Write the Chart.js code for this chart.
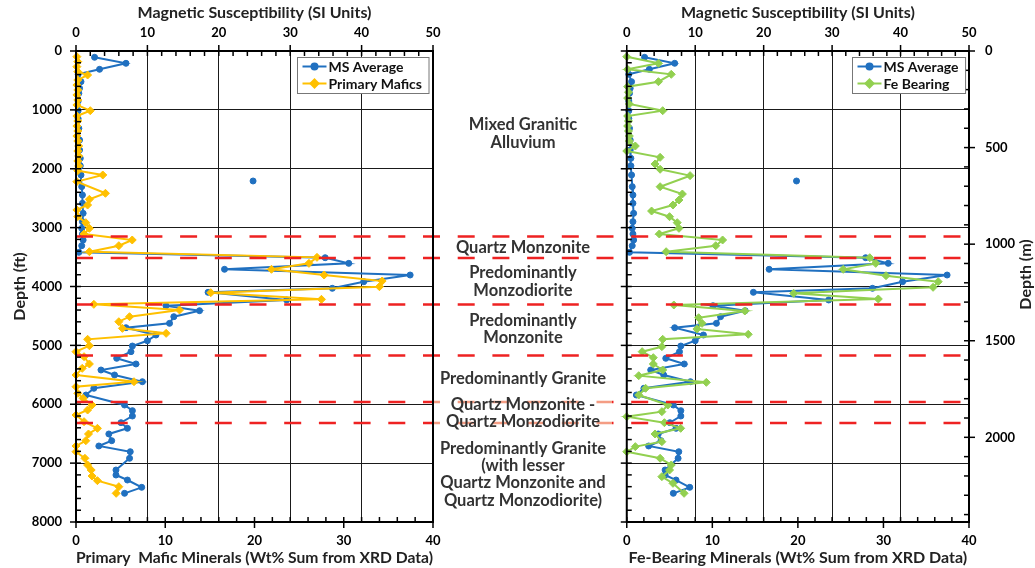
<!DOCTYPE html>
<html>
<head>
<meta charset="utf-8">
<script src="https://cdn.jsdelivr.net/npm/chart.js@4.4.1/dist/chart.umd.min.js"></script>
<style>
  html, body { margin: 0; padding: 0; background: #fff; }
  #wrap { position: relative; width: 1035px; height: 568px; overflow: hidden; }
  #leftChart { position: absolute; left: 0; top: 0; }
  #rightChart { position: absolute; left: 612px; top: 0; }
</style>
</head>
<body>
<div id="wrap">
  <canvas id="leftChart" width="612" height="568"></canvas>
  <canvas id="rightChart" width="423" height="568"></canvas>
</div>
<script>
/* Well log: magnetic susceptibility vs XRD mineral sums */

// MS Average (SI units), same series in both panels
const msDepth = [107, 209, 311, 396, 521, 634, 719, 850, 1014, 1150, 1314, 1512, 1682, 1823, 1950,
  2106, 2304, 2446, 2587, 2757, 2899, 3012, 3108, 3210, 3307, 3420, 3511, 3607, 3708, 3805,
  3918, 4031, 4099, 4229, 4326, 4411, 4513, 4626, 4700, 4824, 4921, 5011, 5107, 5220, 5316,
  5418, 5503, 5617, 5729, 5843, 6013, 6109, 6200, 6313, 6409, 6505, 6619, 6709, 6806, 6918,
  7117, 7202, 7287, 7411, 7513];
const msValue = [2.6, 7.0, 3.3, 0.3, 0.7, 0.5, 0.4, 0.3, 0.3, 0.3, 0.4, 0.5, 0.5, 0.6, 0.6,
  0.7, 0.8, 0.9, 0.9, 1.0, 0.9, 0.8, 0.9, 1.0, 0.8, 0.4, 34.9, 38.2, 20.8, 46.8,
  40.3, 35.9, 18.5, 29.5, 12.6, 17.3, 13.7, 13.1, 7.0, 11.2, 10.0, 7.9, 7.7, 5.7, 8.4,
  3.5, 5.4, 9.3, 2.5, 1.4, 6.8, 7.9, 7.9, 6.3, 7.2, 4.6, 5.0, 3.2, 7.6, 7.5,
  5.6, 5.6, 7.2, 9.2, 6.8];
const msOutlierDepth = [2208];
const msOutlierValue = [24.8];

// Primary mafic minerals (wt%)
const mafDepth = [96, 181, 266, 351, 408, 493, 578, 662, 747, 832, 917, 1014, 1104, 1189, 1274,
  1359, 1444, 1529, 1614, 1699, 1783, 1868, 1953, 2033, 2106, 2219, 2417, 2519, 2616, 2700,
  2813, 2916, 3012, 3108, 3210, 3307, 3409, 3505, 3607, 3708, 3805, 3907, 4003, 4105, 4218,
  4303, 4399, 4513, 4598, 4711, 4796, 4897, 5006, 5107, 5192, 5316, 5390, 5503, 5617, 5702,
  5814, 5900, 6013, 6098, 6183, 6296, 6409, 6505, 6619, 6709, 6806, 6918, 7032, 7117, 7219,
  7298, 7400, 7513];
const mafValue = [0.1, 0.2, 0.1, 0.2, 1.3, 0.2, 0.1, 0.2, 0.1, 0.2, 0.1, 1.6, 0.1, 0.2, 0.1,
  0.2, 0.1, 0.2, 0.3, 0.2, 0.3, 0.2, 0.3, 0.2, 3.0, 0.1, 3.3, 1.5, 1.3, 0.1,
  0.2, 1.1, 1.5, 0.9, 6.3, 4.8, 1.5, 27.0, 26.1, 21.9, 27.8, 34.3, 34.0, 15.1, 27.5,
  2.0, 11.6, 6.0, 4.8, 5.2, 10.1, 1.3, 1.5, 0.0, 0.9, 1.5, 0.7, 0.0, 6.5, 0.0,
  0.2, 0.8, 1.8, 1.3, 0.0, 0.9, 2.4, 1.4, 1.1, 0.0, 0.0, 1.0, 1.3, 1.7, 1.8,
  2.4, 4.8, 4.5];

// Fe-bearing minerals (wt%)
const feDepth = [96, 209, 311, 396, 521, 606, 700, 800, 900, 1014, 1104, 1189, 1274, 1359, 1444,
  1529, 1614, 1699, 1806, 1919, 2009, 2117, 2305, 2429, 2531, 2616, 2718, 2814, 2916, 3012,
  3108, 3210, 3307, 3409, 3511, 3607, 3708, 3816, 3918, 4014, 4116, 4212, 4314, 4416, 4530,
  4626, 4722, 4812, 4897, 5022, 5107, 5209, 5316, 5418, 5515, 5628, 5729, 5843, 6013, 6126,
  6211, 6313, 6409, 6505, 6636, 6720, 6806, 6918, 7032, 7117, 7230, 7343, 7513];
const feValue = [0.0, 3.7, 0.1, 5.2, 3.7, 0.1, 0.2, 0.1, 0.3, 4.2, 0.1, 0.2, 0.1, 0.2, 0.3,
  0.3, 1.0, 0.0, 3.9, 3.3, 3.9, 7.4, 3.9, 6.5, 6.1, 5.4, 2.9, 5.0, 5.9, 6.1,
  3.8, 11.2, 10.4, 4.6, 28.4, 29.1, 25.3, 30.3, 36.4, 35.8, 19.5, 29.4, 5.5, 13.8, 8.4,
  8.8, 8.2, 14.2, 4.2, 4.1, 1.8, 3.1, 3.1, 4.2, 1.4, 9.3, 2.2, 1.4, 4.8, 4.1,
  0.0, 4.4, 6.3, 3.3, 4.1, 1.0, 0.0, 3.9, 5.2, 5.0, 4.1, 5.4, 6.7];

// lithology zones
const zoneBoundary = [3150, 3516, 4306, 5172, 5962, 6319];
const zoneLabel = [
  ["Mixed Granitic", "Alluvium"],
  ["Quartz Monzonite"],
  ["Predominantly", "Monzodiorite"],
  ["Predominantly", "Monzonite"],
  ["Predominantly Granite"],
  ["Quartz Monzonite -", "Quartz Monzodiorite"],
  ["Predominantly Granite", "(with lesser", "Quartz Monzonite and", "Quartz Monzodiorite)"]
];
const zoneLabelDepth = [1405, 3341, 3918, 4722, 5559, 6149, 7193];

// axis ticks
const ftTicks = [0, 1000, 2000, 3000, 4000, 5000, 6000, 7000, 8000];
const mTicks = [0, 500, 1000, 1500, 2000];
const msTicks = [0, 10, 20, 30, 40, 50];
const wtTicks = [0, 10, 20, 30, 40];
const FT_MAX = 8000;
const M_MAX = 2438.4;

// styles
const FONT = 'Lato, "Open Sans", sans-serif';
const BLUE = "#2070C0";
const YELLOW = "#FFC000";
const GREEN = "#92D050";
const RED = "#EE2222";
const GRID = "#1a1a1a";
const MID_X = 523;
const boundaryMidColor = [RED, RED, RED, RED, "rgba(242,140,110,0.85)", "rgba(242,140,110,0.85)"];

function pairs(depths, values) {
  return depths.map((d, i) => ({ x: values[i], y: d }));
}

const tickFont = { family: FONT, size: 13, weight: "bold" };
const titleFont = { family: FONT, size: 16, weight: "bold" };
const plain = v => String(v);
const fixedTicks = list => s => { s.ticks = list.map(v => ({ value: v })); };

function series(label, depths, values, color, style, radius, xAxisID, order) {
  return {
    label,
    data: pairs(depths, values),
    xAxisID,
    yAxisID: "y",
    borderColor: color,
    backgroundColor: color,
    borderWidth: 2,
    pointStyle: style,
    pointRadius: radius,
    pointBorderWidth: 1,
    pointBackgroundColor: color,
    pointBorderColor: color,
    tension: 0,
    clip: false,
    order
  };
}

function drawTickMarks(chart, list) {
  const ctx = chart.ctx;
  const area = chart.chartArea;
  ctx.save();
  ctx.strokeStyle = "#000";
  ctx.lineWidth = 1.5;
  list.forEach(t => {
    const scale = chart.scales[t.axis];
    const horizontal = t.side === "top" || t.side === "bottom";
    const edge = area[t.side];
    const inward = t.side === "top" || t.side === "left" ? 1 : -1;
    for (let v = t.lo; v <= t.hi + 1e-6; v += t.step) {
      const p = scale.getPixelForValue(v);
      const isMajor = Math.abs(v / t.major - Math.round(v / t.major)) < 1e-6;
      const a = isMajor ? edge - 6 * inward : edge;
      const b = edge + 5 * inward;
      ctx.beginPath();
      if (horizontal) { ctx.moveTo(p, a); ctx.lineTo(p, b); }
      else { ctx.moveTo(a, p); ctx.lineTo(b, p); }
      ctx.stroke();
    }
  });
  ctx.restore();
}

function drawLegend(chart) {
  const ctx = chart.ctx;
  const area = chart.chartArea;
  const items = chart.data.datasets.filter(d => !d.hideInLegend);
  ctx.save();
  ctx.font = "bold 14px " + FONT;
  const maxW = Math.max(...items.map(d => ctx.measureText(d.label).width));
  const w = 5 + 24 + 3 + maxW + 6;
  const h = 36;
  const x0 = Math.round(area.right - 4 - w) + 0.5;
  const y0 = Math.round(area.top + 6) + 0.5;
  ctx.fillStyle = "#fff";
  ctx.fillRect(x0, y0, w, h);
  ctx.strokeStyle = "#777";
  ctx.lineWidth = 1;
  ctx.strokeRect(x0, y0, w, h);
  items.forEach((d, i) => {
    const cy = y0 + 9 + i * 17;
    ctx.strokeStyle = d.borderColor;
    ctx.fillStyle = d.borderColor;
    ctx.lineWidth = 2;
    ctx.beginPath();
    ctx.moveTo(x0 + 5, cy);
    ctx.lineTo(x0 + 29, cy);
    ctx.stroke();
    Chart.helpers.drawPoint(ctx, { pointStyle: d.pointStyle, radius: d.pointRadius, rotation: 0, borderWidth: 1 }, x0 + 17, cy);
    ctx.fillStyle = "#111";
    ctx.textAlign = "left";
    ctx.textBaseline = "middle";
    ctx.fillText(d.label, x0 + 31, cy + 1);
  });
  ctx.restore();
}

const decorPlugin = {
  id: "wellDecor",
  afterDatasetsDraw(chart, args, opts) {
    const ctx = chart.ctx;
    const area = chart.chartArea;
    const y = chart.scales.y;
    // zone boundaries
    ctx.save();
    ctx.setLineDash([17, 17.7]);
    ctx.lineWidth = 2.5;
    zoneBoundary.forEach((d, i) => {
      const py = y.getPixelForValue(d);
      if (opts.side === "left") {
        ctx.strokeStyle = RED;
        ctx.lineDashOffset = 0;
        ctx.beginPath(); ctx.moveTo(area.left, py); ctx.lineTo(area.right, py); ctx.stroke();
        ctx.strokeStyle = boundaryMidColor[i];
        ctx.lineDashOffset = area.right - area.left;
        ctx.beginPath(); ctx.moveTo(area.right, py); ctx.lineTo(chart.width, py); ctx.stroke();
      } else {
        ctx.strokeStyle = RED;
        ctx.lineDashOffset = opts.dashOffset;
        ctx.beginPath(); ctx.moveTo(0, py); ctx.lineTo(area.right, py); ctx.stroke();
      }
    });
    ctx.restore();
    // frame
    ctx.save();
    ctx.strokeStyle = "#000";
    ctx.lineWidth = 2;
    ctx.strokeRect(area.left, area.top, area.right - area.left, area.bottom - area.top);
    ctx.restore();
    drawTickMarks(chart, opts.ticks);
    drawLegend(chart);
  },
  afterDraw(chart, args, opts) {
    const ctx = chart.ctx;
    const area = chart.chartArea;
    ctx.save();
    ctx.fillStyle = "#333";
    ctx.textAlign = "center";
    ctx.textBaseline = "middle";
    if (opts.side === "left") {
      const y = chart.scales.y;
      ctx.font = "bold 16.5px " + FONT;
      zoneLabel.forEach((lines, i) => {
        const cy = y.getPixelForValue(zoneLabelDepth[i]);
        lines.forEach((t, j) => ctx.fillText(t, MID_X, cy + (j - (lines.length - 1) / 2) * 17.3));
      });
    } else {
      ctx.font = "bold 16px " + FONT;
      ctx.translate(chart.width - 9, (area.top + area.bottom) / 2 - 12);
      ctx.rotate(-Math.PI / 2);
      ctx.fillStyle = "#222";
      ctx.fillText("Depth (m)", 0, 0);
    }
    ctx.restore();
  }
};

function msAxis() {
  return {
    type: "linear", position: "top", min: 0, max: 50,
    afterBuildTicks: fixedTicks(msTicks),
    ticks: { autoSkip: false, font: tickFont, color: "#000", padding: 10, maxRotation: 0, callback: plain },
    grid: { color: GRID, lineWidth: 1, drawTicks: false },
    border: { display: false },
    title: { display: true, text: "Magnetic Susceptibility (SI Units)", font: titleFont, color: "#222", padding: { top: 3, bottom: 0 } },
    afterFit: s => { s.height = 51; }
  };
}

function wtAxis(text) {
  return {
    type: "linear", position: "bottom", min: 0, max: 40,
    afterBuildTicks: fixedTicks(wtTicks),
    ticks: { autoSkip: false, font: tickFont, color: "#000", padding: 11, maxRotation: 0, callback: plain },
    grid: { drawOnChartArea: false, drawTicks: false },
    border: { display: false },
    title: { display: true, text, font: titleFont, color: "#222", padding: { top: 0, bottom: 1 } },
    afterFit: s => { s.height = 46; }
  };
}

function depthAxis(showLabels) {
  return {
    type: "linear", position: "left", min: 0, max: FT_MAX, reverse: true,
    afterBuildTicks: fixedTicks(ftTicks),
    ticks: { display: showLabels, autoSkip: false, font: tickFont, color: "#000", padding: 14, callback: plain },
    grid: { color: GRID, lineWidth: 1, drawTicks: false },
    border: { display: false },
    title: { display: showLabels, text: "Depth (ft)", font: titleFont, color: "#222", padding: { top: 10 } },
    afterFit: s => { s.width = showLabels ? 76 : 2; }
  };
}

const baseOptions = {
  responsive: false,
  animation: false,
  devicePixelRatio: 1,
  events: []
};

new Chart(document.getElementById("leftChart"), {
  type: "line",
  data: {
    datasets: [
      series("MS Average", msDepth, msValue, BLUE, "circle", 3, "xMs", 1),
      series("Primary Mafics", mafDepth, mafValue, YELLOW, "rectRot", 4, "xMin", 0),
      Object.assign(series("MS outlier", msOutlierDepth, msOutlierValue, BLUE, "circle", 3, "xMs", 2), { showLine: false, hideInLegend: true })
    ]
  },
  options: Object.assign({}, baseOptions, {
    layout: { padding: { left: 0, right: 179, top: 0, bottom: 0 } },
    scales: {
      xMs: msAxis(),
      xMin: wtAxis("Primary  Mafic Minerals (Wt% Sum from XRD Data)"),
      y: depthAxis(true)
    },
    plugins: {
      legend: { display: false },
      tooltip: { enabled: false },
      wellDecor: {
        side: "left",
        ticks: [
          { axis: "xMs", side: "top", lo: 0, hi: 50, step: 2, major: 10 },
          { axis: "xMin", side: "bottom", lo: 0, hi: 40, step: 2, major: 10 },
          { axis: "y", side: "left", lo: 0, hi: FT_MAX, step: 200, major: 1000 }
        ]
      }
    }
  }),
  plugins: [decorPlugin]
});

new Chart(document.getElementById("rightChart"), {
  type: "line",
  data: {
    datasets: [
      series("MS Average", msDepth, msValue, BLUE, "circle", 3, "xMs", 1),
      series("Fe Bearing", feDepth, feValue, GREEN, "rectRot", 4, "xFe", 0),
      Object.assign(series("MS outlier", msOutlierDepth, msOutlierValue, BLUE, "circle", 3, "xMs", 2), { showLine: false, hideInLegend: true })
    ]
  },
  options: Object.assign({}, baseOptions, {
    layout: { padding: 0 },
    scales: {
      xMs: msAxis(),
      xFe: wtAxis("Fe-Bearing Minerals (Wt% Sum from XRD Data)"),
      y: depthAxis(false),
      yM: {
        type: "linear", position: "right", min: 0, max: M_MAX, reverse: true,
        afterBuildTicks: fixedTicks(mTicks),
        ticks: { autoSkip: false, font: tickFont, color: "#000", padding: 16, callback: plain },
        grid: { drawOnChartArea: false, drawTicks: false },
        border: { display: false },
        afterFit: s => { s.width = 66; }
      }
    },
    plugins: {
      legend: { display: false },
      tooltip: { enabled: false },
      wellDecor: {
        side: "right",
        dashOffset: 612 - 76,
        ticks: [
          { axis: "xMs", side: "top", lo: 0, hi: 50, step: 2, major: 10 },
          { axis: "xFe", side: "bottom", lo: 0, hi: 40, step: 2, major: 10 },
          { axis: "y", side: "left", lo: 0, hi: FT_MAX, step: 200, major: 1000 },
          { axis: "yM", side: "right", lo: 0, hi: 2400, step: 100, major: 500 }
        ]
      }
    }
  }),
  plugins: [decorPlugin]
});
</script>
</body>
</html>
